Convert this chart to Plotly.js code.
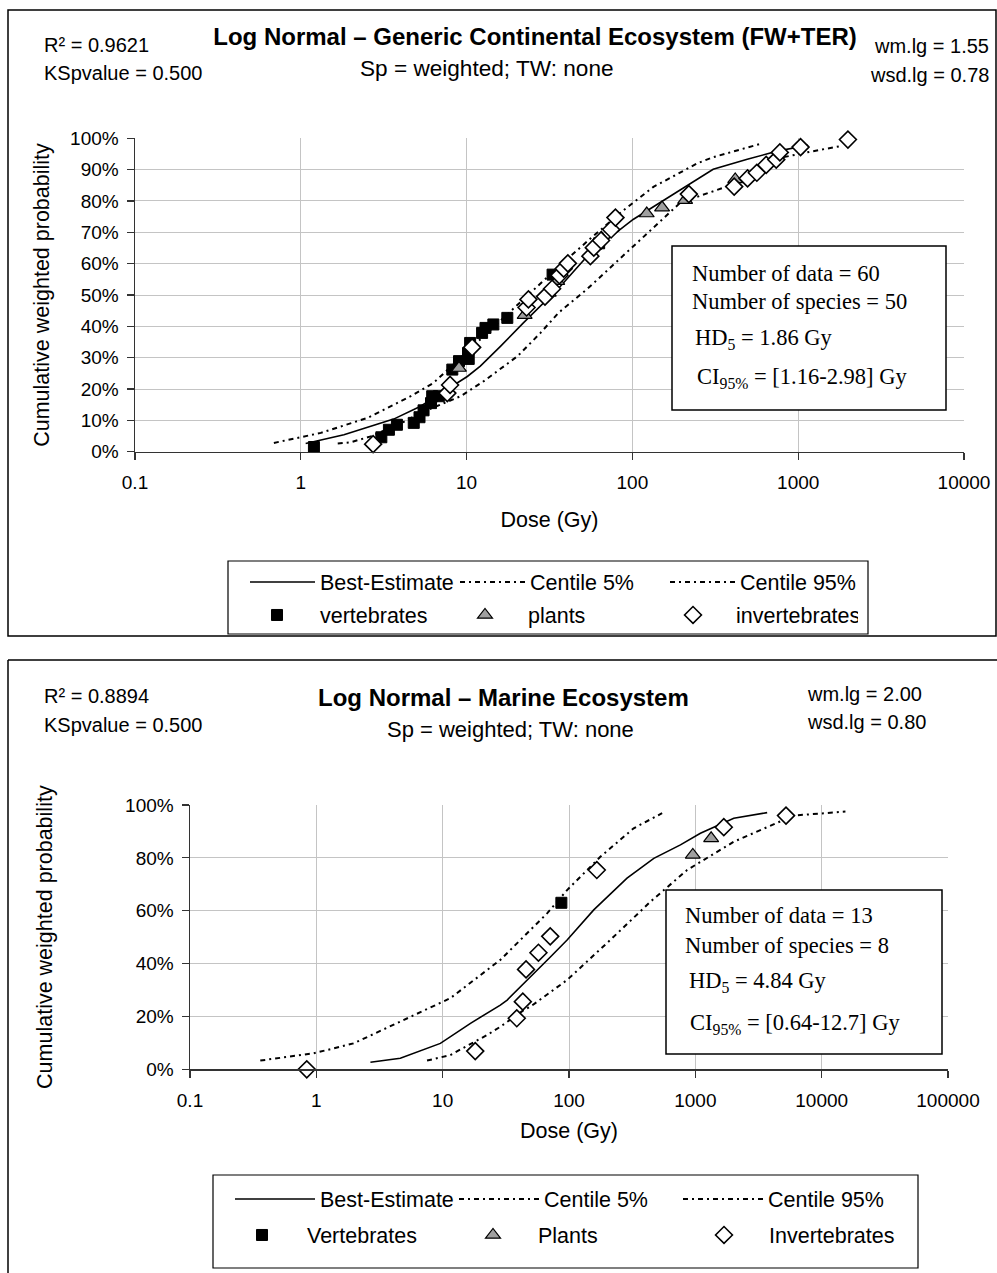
<!DOCTYPE html>
<html><head><meta charset="utf-8">
<script src="https://cdn.plot.ly/plotly-3.0.1.min.js"></script>
<style>html,body{margin:0;padding:0;background:#fff}#chart{width:997px;height:1273px}</style>
</head><body><div id="chart"></div>
<script>
// ---------- Top chart: Generic Continental Ecosystem (FW+TER) ----------
const topTickVals = [0.1, 1, 10, 100, 1000, 10000];
const topTickText = ['0.1', '1', '10', '100', '1000', '10000'];

const topBestX = [1.07, 1.82, 3.63, 5.28, 10.1, 12.1, 16.0, 22.0, 36.8, 55.8, 101, 195, 307, 493, 747, 1148];
const topBestY = [2.6, 5.4, 10.4, 14.5, 24.0, 27.3, 33.6, 41.1, 52.8, 63.5, 74.1, 83.7, 90.1, 93.3, 95.9, 97.8];

const topC5X = [0.688, 1.32, 2.53, 4.60, 6.33, 20.6, 35.3, 55.8, 88.3, 134, 246, 308, 590];
const topC5Y = [2.8, 6.0, 10.8, 17.7, 22.0, 47.0, 58.7, 68.0, 77.0, 84.5, 92.0, 94.0, 98.2];

const topC95X = [1.67, 2.00, 2.64, 4.00, 5.28, 9.20, 12.7, 20.3, 27.9, 35.8, 53.6, 101, 195, 406, 707, 1231, 1791];
const topC95Y = [2.6, 3.0, 4.9, 9.0, 12.4, 17.7, 22.5, 30.5, 37.9, 44.3, 52.0, 65.6, 79.5, 85.3, 93.3, 95.9, 97.5];

const topVertX = [1.2, 3.06, 3.4, 3.8, 4.8, 5.2, 5.5, 6.1, 6.2, 6.8, 8.2, 9.0, 10.2, 10.3, 10.5, 12.4, 13.0, 14.5, 17.6, 33, 63];
const topVertY = [1.5, 4.6, 7.0, 8.6, 9.2, 11.0, 13.2, 15.5, 17.7, 17.7, 26.2, 28.9, 31.5, 29.6, 34.7, 37.9, 39.5, 40.6, 42.7, 56.5, 66.5];

const topPlantX = [9.0, 22.4, 31.3, 35.2, 65, 75, 122, 151, 208, 417];
const topPlantY = [26.7, 43.6, 50.7, 54.4, 68.3, 71.5, 76.0, 77.9, 80.3, 86.9];

const topInvX = [2.73, 7.65, 7.95, 10.8, 23.0, 23.6, 29.7, 32.8, 36.3, 38.5, 40.8, 55.8, 58.5, 64.7, 74.4, 79, 219, 411, 495, 563, 641, 737, 775, 1033, 1995];
const topInvY = [2.4, 18.7, 21.3, 33.3, 46.0, 48.6, 49.5, 52.0, 56.3, 58.4, 60.1, 62.4, 65.1, 67.4, 70.9, 74.7, 82.2, 84.6, 87.2, 89.0, 91.5, 93.2, 95.5, 97.2, 99.6];

// ---------- Bottom chart: Marine Ecosystem ----------
const botTickVals = [0.1, 1, 10, 100, 1000, 10000, 100000];
const botTickText = ['0.1', '1', '10', '100', '1000', '10000', '100000'];

const botBestX = [2.68, 4.62, 9.59, 16.6, 28.6, 32.4, 71.2, 96.6, 157, 288, 469, 762, 1097, 2015, 3702];
const botBestY = [2.65, 4.2, 9.8, 17.4, 24.3, 26.2, 42.5, 48.9, 60.3, 72.3, 79.8, 84.9, 89.3, 95.0, 97.1];

const botC5X = [0.36, 0.952, 1.97, 4.62, 11.5, 28.6, 67.1, 96.6, 177, 325, 546];
const botC5Y = [3.3, 6.05, 9.8, 18.0, 26.9, 41.4, 59.0, 67.8, 80.4, 91.2, 96.9];

const botC95X = [7.52, 11.5, 22.5, 28.6, 43.8, 49.5, 96.6, 213, 441, 861, 2015, 4500, 6000, 15420];
const botC95Y = [3.3, 5.4, 13.0, 16.1, 22.4, 23.7, 33.8, 49.0, 63.4, 75.4, 86.1, 93.5, 96.0, 97.5];

const botVertX = [87];
const botVertY = [63];
const botPlantX = [955, 1334];
const botPlantY = [81.1, 87.4];
const botInvX = [0.84, 18.1, 38.6, 43.1, 45.7, 57.3, 71.0, 166, 1680, 5220];
const botInvY = [0, 6.9, 19.3, 25.6, 37.8, 44.1, 50.3, 75.4, 91.6, 96.0];

// ---------- layout helpers ----------
const W = 997, H = 1273;
const px = v => v / W;
const py = v => 1 - v / H;
const SANS = 'Liberation Sans, Arial, sans-serif';
const SERIF = 'Liberation Serif, Times New Roman, serif';
const dashStyle = '5px,4px,2px,4px';

function lineTrace(x, y, name, xa, ya, dash, width, legend) {
  return {x, y, name, xaxis: xa, yaxis: ya, type: 'scatter', mode: 'lines',
    line: {color: '#000', width: width, dash: dash}, legend: legend, hoverinfo: 'skip'};
}
function markerTrace(x, y, name, xa, ya, symbol, size, fill, lw, legend) {
  return {x, y, name, xaxis: xa, yaxis: ya, type: 'scatter', mode: 'markers', cliponaxis: false,
    marker: {symbol: symbol, size: size, color: fill, line: {color: '#000', width: lw}},
    legend: legend, hoverinfo: 'skip'};
}

const data = [
  lineTrace(topBestX, topBestY, 'Best-Estimate', 'x', 'y', 'solid', 1.6, 'legend'),
  lineTrace(topC5X, topC5Y, 'Centile 5%', 'x', 'y', dashStyle, 2, 'legend'),
  lineTrace(topC95X, topC95Y, 'Centile 95%', 'x', 'y', dashStyle, 2, 'legend'),
  markerTrace(topVertX, topVertY, 'vertebrates', 'x', 'y', 'square', 11, '#000', 1, 'legend2'),
  markerTrace(topPlantX, topPlantY, 'plants', 'x', 'y', 'triangle-up', 13, '#a0a0a0', 1.2, 'legend2'),
  markerTrace(topInvX, topInvY, 'invertebrates', 'x', 'y', 'diamond', 13, '#fff', 1.6, 'legend2'),

  lineTrace(botBestX, botBestY, 'Best-Estimate', 'x2', 'y2', 'solid', 1.6, 'legend3'),
  lineTrace(botC5X, botC5Y, 'Centile 5%', 'x2', 'y2', dashStyle, 2, 'legend3'),
  lineTrace(botC95X, botC95Y, 'Centile 95%', 'x2', 'y2', dashStyle, 2, 'legend3'),
  markerTrace(botVertX, botVertY, 'Vertebrates', 'x2', 'y2', 'square', 11, '#000', 1, 'legend4'),
  markerTrace(botPlantX, botPlantY, 'Plants', 'x2', 'y2', 'triangle-up', 13, '#a0a0a0', 1.2, 'legend4'),
  markerTrace(botInvX, botInvY, 'Invertebrates', 'x2', 'y2', 'diamond', 13, '#fff', 1.6, 'legend4')
];

function xAxis(domain, range, vals, text, anchor, standoff) {
  return {type: 'log', domain: domain, range: range, anchor: anchor,
    tickmode: 'array', tickvals: vals, ticktext: text,
    showgrid: true, gridcolor: '#c4c4c4', gridwidth: 1,
    showline: true, linecolor: '#333', linewidth: 1.5,
    ticks: 'outside', ticklen: 7, tickcolor: '#333', tickwidth: 1.2,
    ticklabelstandoff: 6,
    tickfont: {family: SANS, size: 19, color: '#000'}, zeroline: false, fixedrange: true,
    title: {text: 'Dose (Gy)', font: {family: SANS, size: 21.5, color: '#000'}, standoff: standoff}};
}
function yAxis(domain, dtick, anchor, standoff) {
  return {domain: domain, range: [0, 100], dtick: dtick, anchor: anchor, ticksuffix: '%',
    showgrid: true, gridcolor: '#c4c4c4', gridwidth: 1,
    showline: true, linecolor: '#333', linewidth: 1.5,
    ticks: 'outside', ticklen: 7, tickcolor: '#333', tickwidth: 1.2,
    ticklabelstandoff: 4,
    tickfont: {family: SANS, size: 19, color: '#000'}, zeroline: false, fixedrange: true,
    title: {text: 'Cumulative weighted probability', font: {family: SANS, size: 21.5, color: '#000'}, standoff: standoff}};
}
function legendRow(xPx, yPx, iw, ew) {
  return {orientation: 'h', x: px(xPx), xanchor: 'left', y: py(yPx), yanchor: 'middle',
    bgcolor: 'rgba(0,0,0,0)', borderwidth: 0, itemwidth: iw, entrywidth: ew, entrywidthmode: 'pixels',
    font: {family: SANS, size: 21.5, color: '#000'}, itemclick: false, itemdoubleclick: false, traceorder: 'normal'};
}
function ann(text, xPx, yPx, xanchor, size, opts) {
  return Object.assign({text: text, x: px(xPx), y: py(yPx), xref: 'paper', yref: 'paper',
    xanchor: xanchor, yanchor: 'middle', showarrow: false, align: 'left',
    font: {family: SANS, size: size, color: '#000'}}, opts || {});
}
function rect(x0, y0, x1, y1, fill, w) {
  return {type: 'rect', xref: 'paper', yref: 'paper', x0: px(x0), x1: px(x1), y0: py(y0), y1: py(y1),
    line: {color: '#000', width: w}, fillcolor: fill, layer: 'above'};
}
function seg(x0, y0, x1, y1, w) {
  return {type: 'line', xref: 'paper', yref: 'paper', x0: px(x0), x1: px(x1), y0: py(y0), y1: py(y1),
    line: {color: '#000', width: w}, layer: 'above'};
}
const serif = {family: SERIF, size: 22.5, color: '#000'};

const layout = {
  width: W, height: H, margin: {l: 0, r: 0, t: 0, b: 0},
  paper_bgcolor: '#fff', plot_bgcolor: '#fff', showlegend: true,
  font: {family: SANS, color: '#000'},
  title: {text: 'Log Normal – Generic Continental Ecosystem (FW+TER)', x: px(535), y: py(37),
    xref: 'container', yref: 'container', xanchor: 'center', yanchor: 'middle',
    font: {family: SANS, size: 24, weight: 'bold', color: '#000'}},
  xaxis: xAxis([px(135), px(964)], [-1, 4], topTickVals, topTickText, 'y', 20),
  yaxis: yAxis([py(451.7), py(138.3)], 10, 'x', 14),
  xaxis2: xAxis([px(190), px(948)], [-1, 5], botTickVals, botTickText, 'y2', 13),
  yaxis2: yAxis([py(1069.3), py(805)], 20, 'x2', 66),
  legend: legendRow(245, 582, 65, 130),
  legend2: legendRow(234, 615, 76, 117),
  legend3: legendRow(230, 1199, 80, 129),
  legend4: legendRow(217, 1235, 80, 136),
  shapes: [
    rect(8, 10, 996, 636, 'rgba(0,0,0,0)', 1.5),
    seg(8, 660, 997, 660, 1.5),
    seg(8, 660, 8, 1273, 1.5),
    rect(672, 246, 946, 410, '#fff', 1.5),
    rect(666, 890, 942, 1054, '#fff', 1.5),
    rect(228, 561, 868, 634, 'rgba(0,0,0,0)', 1.2),
    rect(213, 1175, 918, 1268, 'rgba(0,0,0,0)', 1.2)
  ],
  annotations: [
    ann('R² = 0.9621', 42, 45, 'left', 20),
    ann('KSpvalue = 0.500', 42, 73, 'left', 20),
    ann('Sp = weighted; TW: none', 487, 69, 'center', 22.6),
    ann('wm.lg = 1.55', 991, 46, 'right', 20, {align: 'right'}),
    ann('wsd.lg = 0.78', 991, 75, 'right', 20, {align: 'right'}),
    ann('Number of data = 60', 690, 273, 'left', 22.5, {font: serif}),
    ann('Number of species = 50', 690, 302, 'left', 22.5, {font: serif}),
    ann('HD<sub>5</sub> = 1.86 Gy', 693, 339, 'left', 22.5, {font: serif}),
    ann('CI<sub>95%</sub> = [1.16-2.98] Gy', 695, 378, 'left', 22.5, {font: serif}),

    ann('R² = 0.8894', 42, 696, 'left', 20),
    ann('KSpvalue = 0.500', 42, 725, 'left', 20),
    ann('Log Normal – Marine Ecosystem', 503, 697, 'center', 24, {font: {family: SANS, size: 24, weight: 'bold', color: '#000'}}),
    ann('Sp = weighted; TW: none', 510, 730, 'center', 22),
    ann('wm.lg = 2.00', 805, 694, 'left', 20),
    ann('wsd.lg = 0.80', 805, 722, 'left', 20),
    ann('Number of data = 13', 683, 916, 'left', 22.5, {font: serif}),
    ann('Number of species = 8', 683, 945, 'left', 22.5, {font: serif}),
    ann('HD<sub>5</sub> = 4.84 Gy', 687, 982, 'left', 22.5, {font: serif}),
    ann('CI<sub>95%</sub> = [0.64-12.7] Gy', 688, 1024, 'left', 22.5, {font: serif})
  ]
};

Plotly.newPlot('chart', data, layout, {staticPlot: true, displayModeBar: false});
</script></body></html>
